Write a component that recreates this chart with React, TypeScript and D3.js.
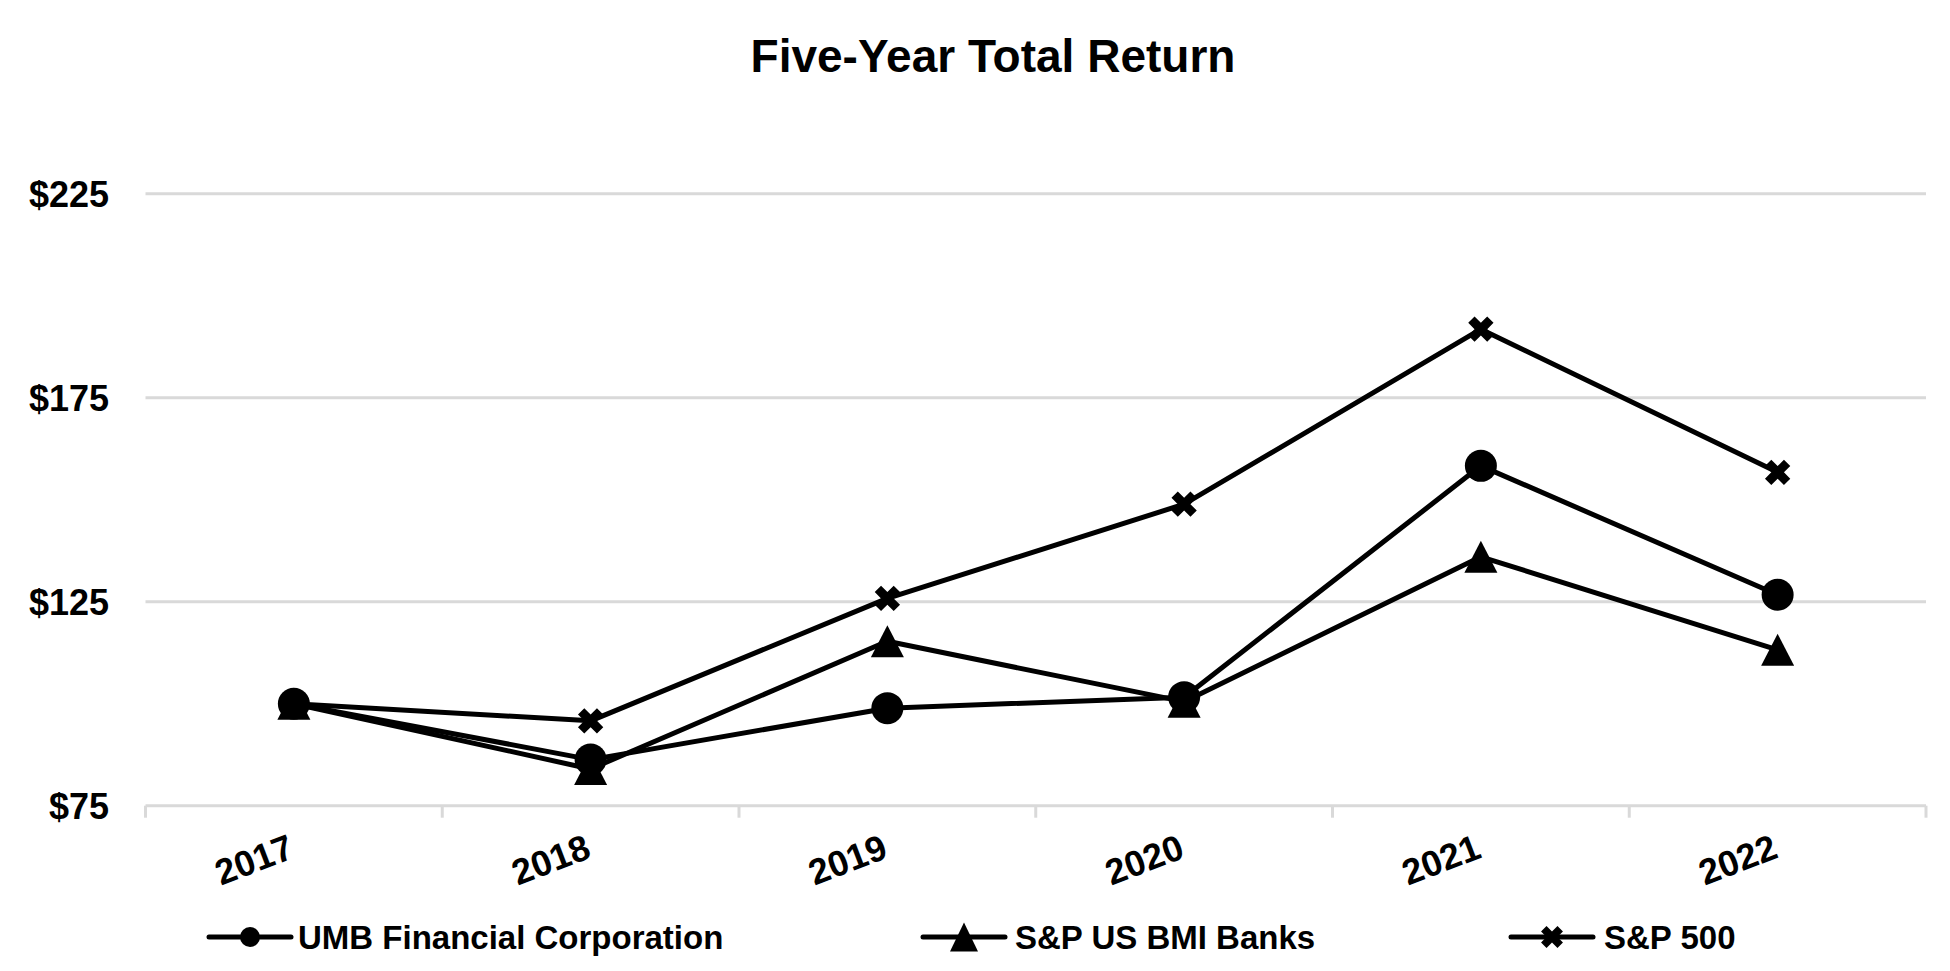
import React from 'react'
import * as d3 from 'd3'

const years = ['2017', '2018', '2019', '2020', '2021', '2022']
const umb = [100, 86.3, 98.9, 101.6, 158.3, 126.7]
const banks = [100, 84.0, 115.3, 100.5, 136.0, 113.2]
const sp500 = [100, 95.8, 125.8, 148.9, 191.8, 156.7]
const yTicks = [75, 125, 175, 225]

const seriesNames = ['UMB Financial Corporation', 'S&P US BMI Banks', 'S&P 500']
const seriesValues = [umb, banks, sp500]
const seriesMarkers = ['circle', 'triangle', 'cross']

const width = 1950
const height = 971
const font = '"Liberation Sans", Arial, sans-serif'

// triangle centred on its bounding box, like the spreadsheet markers
const trianglePath = (w: number, h: number) => {
  const p = d3.path()
  p.moveTo(0, -h / 2)
  p.lineTo(w / 2, h / 2)
  p.lineTo(-w / 2, h / 2)
  p.closePath()
  return p.toString()
}

const Marker = ({ kind, x, y, big }: { kind: string; x: number; y: number; big: boolean }) => {
  if (kind === 'circle') return <circle cx={x} cy={y} r={big ? 16 : 10} fill="#000" />
  if (kind === 'triangle') {
    return <path d={big ? trianglePath(33, 32) : trianglePath(28, 29)} transform={`translate(${x},${y})`} fill="#000" />
  }
  const cross = d3.symbol(d3.symbolCross, big ? 400 : 300)()
  return <path d={cross || ''} transform={`translate(${x},${y}) rotate(45)`} fill="#000" />
}

export default function App() {
  const x = d3.scaleBand().domain(years).range([145.5, 1926]).padding(0)
  const y = d3.scaleLinear().domain([75, 225]).range([805.7, 193.7])
  const cx = (yr: string) => (x(yr) || 0) + x.bandwidth() / 2

  const line = d3
    .line<number>()
    .x((_, i) => cx(years[i]))
    .y(d => y(d))

  const tickXs = [...years.map(yr => x(yr) || 0), 1926]

  const legendItems = [
    { lineX: 209, textX: 298 },
    { lineX: 923, textX: 1015 },
    { lineX: 1511, textX: 1604 }
  ]
  const legendY = 937

  return (
    <svg
      width={width}
      height={height}
      style={{ position: 'absolute', left: 0, top: 0, background: '#fff' }}
      fontFamily={font}
    >
      <text x={993} y={72} textAnchor="middle" fontSize={46} fontWeight="bold" fill="#000">
        Five-Year Total Return
      </text>

      {/* grid */}
      {yTicks.map(t => (
        <g key={t}>
          <line x1={145.5} x2={1926} y1={y(t)} y2={y(t)} stroke="#d9d9d9" strokeWidth={3} />
          <text x={109} y={y(t)} dy="0.36em" textAnchor="end" fontSize={36} fontWeight="bold" fill="#000">
            ${t}
          </text>
        </g>
      ))}

      {/* category ticks */}
      {tickXs.map((tx, i) => (
        <line key={i} x1={tx} x2={tx} y1={y(75)} y2={y(75) + 12} stroke="#d9d9d9" strokeWidth={3} />
      ))}

      {years.map(yr => (
        <text
          key={yr}
          transform={`translate(${cx(yr) + 2},${857}) rotate(-21)`}
          textAnchor="end"
          fontSize={36}
          fontWeight="bold"
          fill="#000"
        >
          {yr}
        </text>
      ))}

      {seriesValues.map((vals, si) => (
        <g key={si}>
          <path d={line(vals) || ''} fill="none" stroke="#000" strokeWidth={5} strokeLinejoin="round" />
          {vals.map((v, i) => (
            <Marker key={i} kind={seriesMarkers[si]} x={cx(years[i])} y={y(v)} big={true} />
          ))}
        </g>
      ))}

      {/* legend */}
      {seriesNames.map((name, si) => {
        const it = legendItems[si]
        return (
          <g key={name}>
            <line
              x1={it.lineX}
              x2={it.lineX + 82}
              y1={legendY}
              y2={legendY}
              stroke="#000"
              strokeWidth={5}
              strokeLinecap="round"
            />
            <Marker kind={seriesMarkers[si]} x={it.lineX + 41} y={legendY} big={false} />
            <text x={it.textX} y={legendY} dy="0.36em" fontSize={33} fontWeight="bold" fill="#000">
              {name}
            </text>
          </g>
        )
      })}
    </svg>
  )
}
